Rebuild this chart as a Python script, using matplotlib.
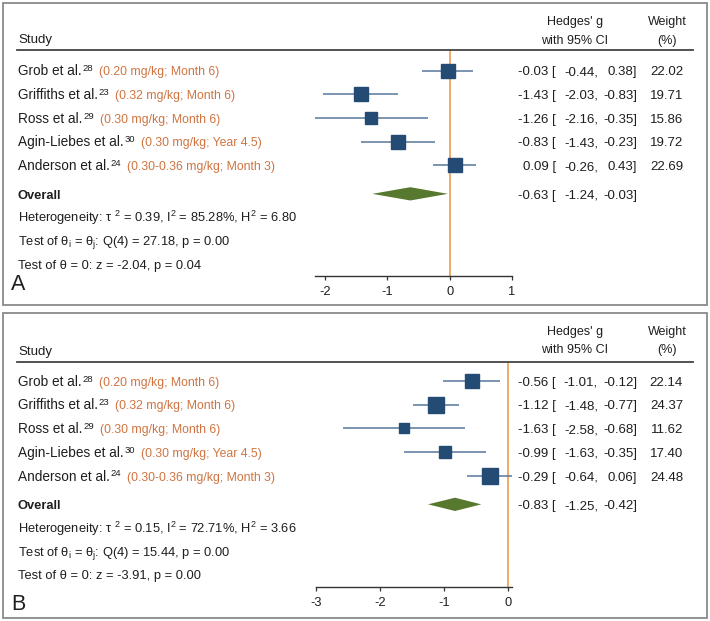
import matplotlib
matplotlib.use('Agg')
import matplotlib.pyplot as plt
import numpy as np
from matplotlib.patches import Rectangle
from matplotlib.lines import Line2D
import matplotlib.transforms as mtransforms

plt.rcParams['font.family'] = ['Liberation Sans', 'DejaVu Sans']
plt.rcParams['mathtext.fontset'] = 'custom'
plt.rcParams['mathtext.rm'] = 'Liberation Sans'
plt.rcParams['mathtext.it'] = 'Liberation Sans:italic'
plt.rcParams['mathtext.bf'] = 'Liberation Sans:bold'
plt.rcParams['axes.unicode_minus'] = False

# ---------------- data ----------------
studies = ["Grob et al.", "Griffiths et al.", "Ross et al.", "Agin-Liebes et al.", "Anderson et al."]
refs = ["28", "23", "29", "30", "24"]
doses = ["(0.20 mg/kg; Month 6)", "(0.32 mg/kg; Month 6)", "(0.30 mg/kg; Month 6)",
         "(0.30 mg/kg; Year 4.5)", "(0.30-0.36 mg/kg; Month 3)"]

a_g = [-0.03, -1.43, -1.26, -0.83, 0.09]
a_lo = [-0.44, -2.03, -2.16, -1.43, -0.26]
a_hi = [0.38, -0.83, -0.35, -0.23, 0.43]
a_w = [22.02, 19.71, 15.86, 19.72, 22.69]
a_overall = [-0.63, -1.24, -0.03]
a_stats = dict(tau2="0.39", I2="85.28", H2="6.80", Q="27.18", pQ="0.00", z="-2.04", pz="0.04")
a_ticks = [-2, -1, 0, 1]

b_g = [-0.56, -1.12, -1.63, -0.99, -0.29]
b_lo = [-1.01, -1.48, -2.58, -1.63, -0.64]
b_hi = [-0.12, -0.77, -0.68, -0.35, 0.06]
b_w = [22.14, 24.37, 11.62, 17.40, 24.48]
b_overall = [-0.83, -1.25, -0.42]
b_stats = dict(tau2="0.15", I2="72.71", H2="3.66", Q="15.44", pQ="0.00", z="-3.91", pz="0.00")
b_ticks = [-3, -2, -1, 0]

# ---------------- style ----------------
W, H = 710, 621
TXT = "#1e1e1e"
ORANGE_TXT = "#cf7440"
ORANGE_LINE = "#ea9440"
SQUARE = "#234b74"
CI_LINE = "#56789c"
DIAMOND = "#56782f"
BORDER = "#8a8a8a"

fig = plt.figure(figsize=(7.1, 6.21), dpi=100)


def fx(px):
    return px / W


def fy(py):
    return 1 - py / H


panels = [
    dict(g=a_g, lo=a_lo, hi=a_hi, w=a_w, ov=a_overall, st=a_stats, ticks=a_ticks, letter="A",
         border=(3, 3, 707, 305), hdr=(22, 41), hline=50, axr=(315, 50, 512, 276), row0=70.5, letter_y=285),
    dict(g=b_g, lo=b_lo, hi=b_hi, w=b_w, ov=b_overall, st=b_stats, ticks=b_ticks, letter="B",
         border=(3, 313, 707, 618), hdr=(332, 350), hline=362, axr=(316, 362, 512, 587), row0=381, letter_y=605),
]

ROWSTEP = 23.72  # pixels per row

for P in panels:
    x0, y0, x1, y1 = P["border"]
    fig.add_artist(Rectangle((fx(x0), fy(y1)), fx(x1) - fx(x0), fy(y0) - fy(y1),
                             transform=fig.transFigure, fill=False, ec=BORDER, lw=1.3))
    # header
    fig.text(fx(18), fy(P["hline"] - 10), "Study", fontsize=9.5, color=TXT, va='center', ha='left')
    fig.text(fx(575), fy(P["hdr"][0]), "Hedges' g", fontsize=9, color=TXT, va='center', ha='center')
    fig.text(fx(575), fy(P["hdr"][1]), "with 95% CI", fontsize=9, color=TXT, va='center', ha='center')
    fig.text(fx(667), fy(P["hdr"][0]), "Weight", fontsize=9, color=TXT, va='center', ha='center')
    fig.text(fx(667), fy(P["hdr"][1]), "(%)", fontsize=9, color=TXT, va='center', ha='center')
    fig.add_artist(Line2D([fx(17), fx(693)], [fy(P["hline"]), fy(P["hline"])],
                          transform=fig.transFigure, color="#444444", lw=1.3))
    fig.text(fx(11), fy(P["letter_y"]), P["letter"], fontsize=15.5, color=TXT, va='center', ha='left')

    # forest axes
    l, t, r, b = P["axr"]
    ax = fig.add_axes([fx(l), fy(b), fx(r) - fx(l), fy(t) - fy(b)])
    ax.patch.set_alpha(0)
    g = np.array(P["g"]); lo = np.array(P["lo"]); hi = np.array(P["hi"]); w = np.array(P["w"])
    n = len(g)
    rows = np.arange(n)
    xmin = min(lo.min(), min(P["ticks"]))
    xmax = max(hi.max(), max(P["ticks"]))
    ax.set_xlim(xmin, xmax)
    ytop = -(P["row0"] - t) / ROWSTEP
    ybot = (b - P["row0"]) / ROWSTEP
    ax.set_ylim(ybot, ytop)

    ax.axvline(0, color=ORANGE_LINE, lw=1.1, zorder=1)
    ax.hlines(rows, lo, hi, color=CI_LINE, lw=1.1, zorder=2)
    for i in range(n):
        ax.plot(g[i], rows[i], marker='s', ms=3.1 * np.sqrt(w[i]) * 0.72,
                color=SQUARE, mec=SQUARE, zorder=3, ls='none')
    est, olo, ohi = P["ov"]
    orow = 5.2
    hh = 0.28
    ax.fill([olo, est, ohi, est], [orow, orow - hh, orow, orow + hh], color=DIAMOND, zorder=3, lw=0)

    for s in ['top', 'left', 'right']:
        ax.spines[s].set_visible(False)
    ax.spines['bottom'].set_color("#333333")
    ax.spines['bottom'].set_linewidth(1.0)
    ax.set_yticks([])
    ax.set_xticks(P["ticks"])
    ax.set_xticklabels([str(v) for v in P["ticks"]])
    ax.tick_params(axis='x', length=3, width=0.9, color="#333333", labelsize=9.3, labelcolor=TXT, pad=4)

    tr = mtransforms.blended_transform_factory(fig.transFigure, ax.transData)
    off = 0.2
    for i in range(n):
        y = rows[i] + off
        lab = ax.text(fx(18), y, studies[i], transform=tr, fontsize=9.8,
                      color=TXT, va='baseline', ha='left', clip_on=False)
        sup = ax.annotate(refs[i], xy=(1, y), xycoords=(lab, tr), xytext=(0.6, 3.0),
                          textcoords='offset points', fontsize=6.8, color=TXT,
                          va='baseline', ha='left', annotation_clip=False)
        ax.annotate(doses[i], xy=(1, y), xycoords=(sup, tr), xytext=(4, 0), textcoords='offset points',
                    fontsize=8.8, color=ORANGE_TXT, va='baseline', ha='left', annotation_clip=False)
        ax.text(fx(556), y, f"{g[i]:.2f} [", transform=tr, fontsize=9.5, color=TXT, ha='right', va='baseline')
        ax.text(fx(598), y, f"{lo[i]:.2f},", transform=tr, fontsize=9.5, color=TXT, ha='right', va='baseline')
        ax.text(fx(637), y, f"{hi[i]:.2f}]", transform=tr, fontsize=9.5, color=TXT, ha='right', va='baseline')
        ax.text(fx(683), y, f"{w[i]:.2f}", transform=tr, fontsize=9.5, color=TXT, ha='right', va='baseline')

    y = orow + off
    ax.text(fx(18), y, "Overall", transform=tr, fontsize=9.3, color=TXT, ha='left', va='baseline',
            fontweight='bold')
    ax.text(fx(556), y, f"{est:.2f} [", transform=tr, fontsize=9.5, color=TXT, ha='right', va='baseline')
    ax.text(fx(598), y, f"{olo:.2f},", transform=tr, fontsize=9.5, color=TXT, ha='right', va='baseline')
    ax.text(fx(637), y, f"{ohi:.2f}]", transform=tr, fontsize=9.5, color=TXT, ha='right', va='baseline')

    st = P["st"]
    lines = [
        f"Heterogeneity: \u03c4 $^{{2}}$ = {st['tau2']}, I$^{{2}}$ = {st['I2']}%, H$^{{2}}$ = {st['H2']}",
        f"Test of \u03b8$_{{\\mathrm{{i}}}}$ = \u03b8$_{{\\mathrm{{j}}}}$: Q(4) = {st['Q']}, p = {st['pQ']}",
        f"Test of \u03b8 = 0: z = {st['z']}, p = {st['pz']}",
    ]
    for k, (txt, yy) in enumerate(zip(lines, [6.2, 7.17, 8.15])):
        ax.text(fx(18), yy + off, txt, transform=tr, fontsize=9.3, color=TXT, ha='left', va='baseline')

fig.savefig("out.png", dpi=100)
